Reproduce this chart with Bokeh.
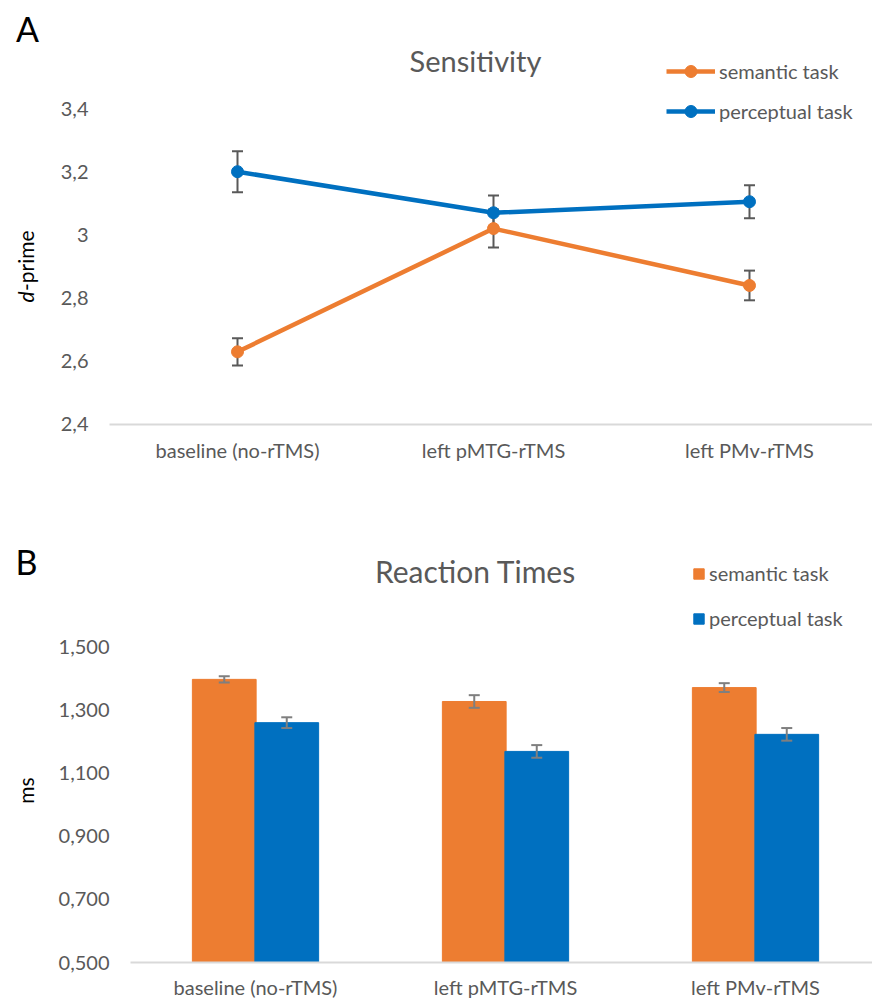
import math
from bokeh.plotting import figure
from bokeh.models import (Range1d, FixedTicker, Label, Legend, LegendItem, Whisker,
                          TeeHead, ColumnDataSource)
from bokeh.layouts import column
from bokeh.embed import file_html
from bokeh.resources import INLINE

# ---------------- data ----------------
conditions = ["baseline (no-rTMS)", "left pMTG-rTMS", "left PMv-rTMS"]
series_names = ["semantic task", "perceptual task"]

dprime_semantic = [2.63, 3.02, 2.84]
dprime_semantic_err = [0.043, 0.060, 0.047]
dprime_perceptual = [3.20, 3.07, 3.105]
dprime_perceptual_err = [0.065, 0.055, 0.052]

rt_semantic = [1.396, 1.326, 1.370]
rt_semantic_err = [0.010, 0.020, 0.014]
rt_perceptual = [1.259, 1.168, 1.222]
rt_perceptual_err = [0.017, 0.020, 0.020]

dprime_ticks = [2.4, 2.6, 2.8, 3.0, 3.2, 3.4]
dprime_tick_labels = ["2,4", "2,6", "2,8", "3", "3,2", "3,4"]
rt_ticks = [0.5, 0.7, 0.9, 1.1, 1.3, 1.5]
rt_tick_labels = ["0,500", "0,700", "0,900", "1,100", "1,300", "1,500"]

ORANGE = "#ED7D31"
BLUE = "#0070C0"
GREY_TXT = "#595959"
FONT = "Lato"

xs = list(range(len(conditions)))


def style_axes(p, yticks, ylabels, ybase, xstandoff):
    p.outline_line_color = None
    p.grid.visible = False
    p.background_fill_color = "white"
    p.border_fill_color = "white"
    p.xaxis.ticker = FixedTicker(ticks=xs)
    p.xaxis.major_label_overrides = {i: c for i, c in enumerate(conditions)}
    p.yaxis.ticker = FixedTicker(ticks=yticks)
    p.yaxis.major_label_overrides = {t: l for t, l in zip(yticks, ylabels)}
    p.xaxis.fixed_location = ybase
    p.yaxis.fixed_location = -0.5
    p.xaxis.bounds = (-0.5, 2.6)
    for ax in (p.xaxis[0], p.yaxis[0]):
        ax.major_tick_out = 0
        ax.major_tick_in = 0
        ax.minor_tick_out = 0
        ax.minor_tick_in = 0
        ax.major_label_text_font = FONT
        ax.major_label_text_font_size = "20px"
        ax.major_label_text_color = GREY_TXT
    p.xaxis.axis_line_color = "#D9D9D9"
    p.xaxis.axis_line_width = 2
    p.xaxis.major_label_standoff = xstandoff
    p.yaxis.axis_line_color = None
    p.yaxis.major_label_standoff = 21


# ---------------- Panel A : Sensitivity ----------------
pA = figure(width=872, height=490, x_range=Range1d(-0.9258, 2.4805),
            y_range=Range1d(2.1911, 3.7418),
            output_backend="svg", toolbar_location=None,
            min_border_left=0, min_border_right=0, min_border_top=0, min_border_bottom=0)
style_axes(pA, dprime_ticks, dprime_tick_labels, 2.4, 14)

srcA = []
for vals, errs in ((dprime_semantic, dprime_semantic_err), (dprime_perceptual, dprime_perceptual_err)):
    srcA.append(ColumnDataSource(dict(x=xs, y=vals,
                                      lower=[v - e for v, e in zip(vals, errs)],
                                      upper=[v + e for v, e in zip(vals, errs)])))

for s in srcA:
    pA.add_layout(Whisker(source=s, base="x", lower="lower", upper="upper",
                          line_color=GREY_TXT, line_width=2, level="underlay",
                          upper_head=TeeHead(size=11, line_color=GREY_TXT, line_width=2),
                          lower_head=TeeHead(size=11, line_color=GREY_TXT, line_width=2)))

itemsA = []
for s, col, name in zip(srcA, (ORANGE, BLUE), series_names):
    l = pA.line("x", "y", source=s, line_color=col, line_width=4.5)
    c = pA.scatter("x", "y", source=s, size=12, fill_color=col, line_color=col)
    itemsA.append(LegendItem(label=name, renderers=[l, c]))

legA = Legend(items=itemsA, location=(666, 364), orientation="vertical",
              glyph_width=49, glyph_height=30, label_standoff=4, spacing=10,
              padding=0, margin=0, border_line_color=None, background_fill_alpha=0,
              label_text_font=FONT, label_text_font_size="20px", label_text_color=GREY_TXT)
pA.add_layout(legA)

pA.add_layout(Label(x=475, y=430, x_units="screen", y_units="screen", text="Sensitivity",
                    text_align="center", text_baseline="middle", text_font=FONT,
                    text_font_size="29px", text_color=GREY_TXT))
pA.add_layout(Label(x=27, y=462, x_units="screen", y_units="screen", text="A",
                    text_align="center", text_baseline="middle", text_font=FONT,
                    text_font_size="34px", text_color="black"))
pA.add_layout(Label(x=25, y=188, x_units="screen", y_units="screen", text="d",
                    angle=math.pi / 2, text_align="left", text_baseline="middle",
                    text_font=FONT, text_font_style="italic",
                    text_font_size="21px", text_color="black"))
pA.add_layout(Label(x=25, y=199.5, x_units="screen", y_units="screen", text="-prime",
                    angle=math.pi / 2, text_align="left", text_baseline="middle",
                    text_font=FONT, text_font_size="21px", text_color="black"))

# ---------------- Panel B : Reaction Times ----------------
pB = figure(width=872, height=511, x_range=Range1d(-1.02, 2.468),
            y_range=Range1d(0.3766, 1.9937),
            output_backend="svg", toolbar_location=None,
            min_border_left=0, min_border_right=0, min_border_top=0, min_border_bottom=0)
style_axes(pB, rt_ticks, rt_tick_labels, 0.5, 12)

itemsB = []
for vals, errs, col, name, off in ((rt_semantic, rt_semantic_err, ORANGE, series_names[0], -0.125),
                                   (rt_perceptual, rt_perceptual_err, BLUE, series_names[1], 0.125)):
    s = ColumnDataSource(dict(x=[x + off for x in xs], top=vals,
                              lower=[v - e for v, e in zip(vals, errs)],
                              upper=[v + e for v, e in zip(vals, errs)]))
    r = pB.vbar(x="x", top="top", bottom=0.5, width=0.255, source=s,
                fill_color=col, line_color=col, line_width=1)
    itemsB.append(LegendItem(label=name, renderers=[r]))
    pB.add_layout(Whisker(source=s, base="x", lower="lower", upper="upper",
                          line_color="#7F7F7F", line_width=2, level="overlay",
                          upper_head=TeeHead(size=11, line_color="#7F7F7F", line_width=2),
                          lower_head=TeeHead(size=11, line_color="#7F7F7F", line_width=2)))

legB = Legend(items=itemsB, location=(692, 371), orientation="vertical",
              glyph_width=13, glyph_height=13, label_standoff=4, spacing=21,
              padding=0, margin=0, border_line_color=None, background_fill_alpha=0,
              label_text_font=FONT, label_text_font_size="20px", label_text_color=GREY_TXT)
pB.add_layout(legB)

pB.add_layout(Label(x=475, y=431, x_units="screen", y_units="screen", text="Reaction Times",
                    text_align="center", text_baseline="middle", text_font=FONT,
                    text_font_size="30px", text_color=GREY_TXT))
pB.add_layout(Label(x=26, y=440, x_units="screen", y_units="screen", text="B",
                    text_align="center", text_baseline="middle", text_font=FONT,
                    text_font_size="34px", text_color="black"))
pB.add_layout(Label(x=25, y=211, x_units="screen", y_units="screen", text="ms",
                    angle=math.pi / 2, text_align="center", text_baseline="middle",
                    text_font=FONT, text_font_size="21px", text_color="black"))

layout = column(pA, pB, spacing=0)
open("out.html", "w").write(file_html(layout, INLINE))
